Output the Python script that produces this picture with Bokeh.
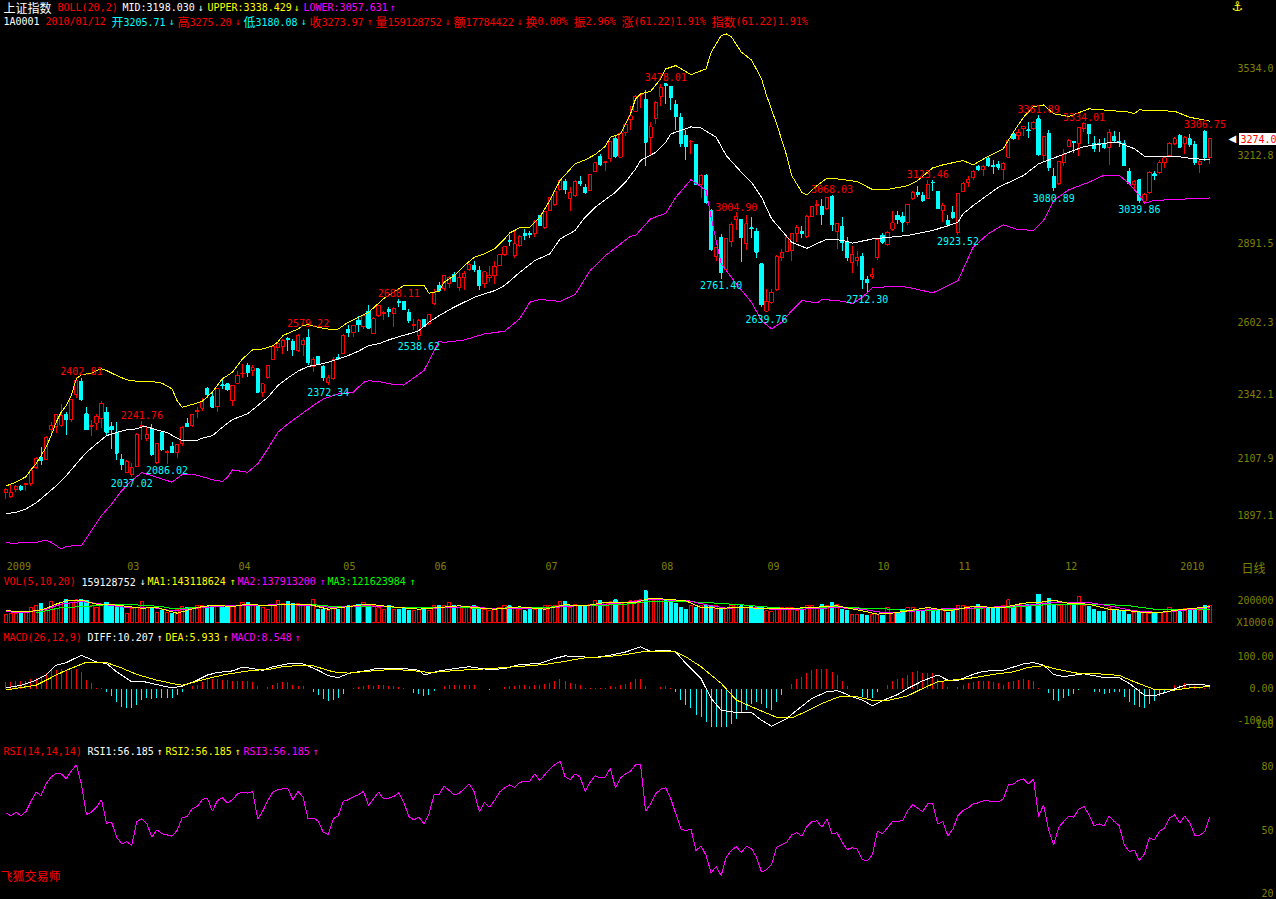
from bokeh.embed import file_html
from bokeh.resources import INLINE
from bokeh.plotting import figure
from bokeh.layouts import column
from bokeh.models import Range1d, LinearAxis, FixedTicker, Label, NumeralTickFormatter
from bokeh.core.properties import value

RED, CYAN, YEL, MAG, GRN, WHT, OLV = "#ff0000", "#00ffff", "#ffff00", "#ff00ff", "#00ff00", "#ffffff", "#808000"
MONO, CJK = "DejaVu Sans Mono", "Noto Sans CJK SC"

opens = [1981,1965,1992,2003,2009,2012,2070,2109,2102,2210,
2221,2227,2265,2248,2338,2386,2268,2222,2233,2249,
2274,2221,2200,2101,2054,2046,2076,2221,2176,2209,
2091,2200,2127,2148,2125,2160,2231,2225,2276,2289,
2360,2330,2294,2374,2377,2316,2380,2414,2444,2426,
2432,2347,2399,2465,2511,2515,2542,2533,2499,2521,
2548,2442,2477,2442,2383,2396,2475,2487,2576,2564,
2609,2587,2643,2560,2627,2633,2649,2633,2678,2680,
2637,2591,2554,
2611,2599,2670,2737,2725,2743,2779,2728,2767,2794,2810,2792,2743,2765,2773,2810,2850,2901,2846,2883,2926,2926,2928,2993,2948,3011,3033,3087,3117,3056,3066,3118,3094,3084,3155,3210,3187,3202,3274,3206,3297,3343,3374,3433,3417,3279,3349,3428,3474,3464,3399,3350,3285,3262,3252,3106,3138,3013,2843,2911,2795,2899,2979,2978,2889,2948,2935,2816,2643,2676,2721,2840,2862,2865,2928,2935,2916,2989,3029,3026,3017,3063,2935,
2953,2893,2822,2828,2844,2760,2770,2840,2920,2887,2943,2993,2989,2968,3056,3078,3066,3056,3115,3082,3011,2975,3005,2932,3081,3115,3133,3172,3160,3200,3176,3179,3160,3206,3291,3285,3310,3306,3310,3346,3212,3294,3135,3111,3188,3245,3263,3255,3310,3326,3255,3256,3258,3243,3282,3262,3258,3155,3106,3123,3045,3076,3145,3149,3185,3212,3255,3285,3255,3273,3252,3179,3300,3206]
closes = [1993,1981,2004,1991,2012,2060,2105,2097,2182,2225,
2264,2261,2247,2320,2389,2320,2210,2225,2259,2307,
2200,2209,2124,2083,2094,2070,2194,2224,2191,2118,
2158,2137,2131,2127,2154,2218,2222,2265,2280,2314,
2338,2292,2360,2370,2355,2372,2408,2416,2419,2436,
2347,2377,2444,2515,2524,2536,2538,2502,2556,2536,
2456,2465,2450,2399,2399,2465,2469,2556,2564,2591,
2594,2627,2581,2615,2664,2639,2643,2652,2676,2650,
2609,2594,2609,
2587,2631,2712,2718,2775,2765,2753,2765,2782,2814,2794,2737,2787,2773,2807,2850,2879,2899,2889,2917,2920,2923,2972,2956,3007,3057,3082,3121,3088,3076,3118,3111,3076,3143,3185,3179,3189,3265,3209,3294,3326,3358,3429,3435,3261,3317,3407,3460,3468,3425,3355,3255,3245,3265,3106,3138,3041,2867,2875,2785,2909,2960,2990,2913,2962,2945,2859,2667,2679,2712,2843,2859,2911,2926,2948,2926,2990,3026,3033,2996,3060,2960,2962,
2895,2840,2850,2840,2760,2749,2779,2905,2895,2932,2966,2978,2968,3035,3078,3068,3048,3105,3112,3018,3029,2960,2987,3072,3111,3123,3154,3160,3172,3176,3172,3170,3184,3267,3273,3298,3318,3304,3334,3216,3283,3167,3094,3191,3216,3267,3261,3313,3328,3291,3237,3254,3243,3298,3267,3260,3176,3109,3118,3048,3070,3151,3138,3185,3204,3258,3273,3243,3277,3252,3188,3191,3204,3274]
highs = [1997,2008,2009,2009,2014,2066,2109,2148,2185,2237,
2268,2304,2274,2322,2403,2399,2294,2246,2268,2313,
2294,2237,2237,2121,2099,2087,2197,2242,2219,2231,
2158,2200,2137,2165,2158,2224,2253,2268,2292,2326,
2367,2347,2363,2392,2380,2375,2424,2450,2454,2447,
2432,2377,2444,2517,2530,2542,2548,2542,2558,2545,
2579,2475,2481,2447,2411,2475,2487,2558,2591,2594,
2627,2633,2664,2621,2667,2645,2658,2658,2688,2682,
2652,2615,2615,
2615,2633,2725,2749,2777,2773,2788,2785,2789,2818,2828,2810,2789,2810,2828,2853,2883,2920,2938,2920,2944,2935,2977,2993,3011,3060,3084,3123,3127,3096,3121,3139,3109,3145,3185,3218,3191,3267,3282,3297,3330,3395,3432,3438,3450,3334,3410,3474,3478,3468,3417,3368,3304,3269,3255,3145,3143,3017,2877,2926,2911,2968,3005,2978,2993,2987,2948,2818,2725,2725,2850,2871,2913,2928,2960,2956,2996,3029,3048,3054,3060,3068,2965,
2987,2914,2883,2865,2855,2773,2801,2907,2928,2938,3009,3011,3007,3035,3082,3102,3078,3123,3121,3084,3038,2993,3026,3074,3115,3137,3160,3179,3176,3209,3196,3194,3188,3269,3298,3310,3322,3334,3338,3361,3285,3304,3167,3194,3237,3273,3267,3316,3334,3326,3282,3273,3277,3310,3301,3298,3269,3167,3123,3127,3074,3155,3155,3196,3209,3263,3279,3291,3285,3291,3265,3196,3307,3275]
lows = [1955,1960,1981,1987,1987,2005,2066,2082,2099,2194,
2197,2219,2192,2237,2326,2316,2207,2188,2207,2216,
2192,2140,2099,2064,2054,2037,2076,2174,2170,2115,
2086,2131,2086,2125,2107,2152,2221,2219,2253,2280,
2326,2292,2274,2359,2350,2298,2377,2399,2404,2408,
2343,2331,2395,2463,2497,2485,2497,2481,2495,2481,
2448,2422,2447,2389,2372,2392,2463,2485,2550,2548,
2566,2578,2581,2558,2623,2611,2623,2587,2660,2648,
2599,2575,2538,
2584,2594,2667,2712,2716,2728,2749,2718,2721,2789,2785,2721,2728,2749,2743,2809,2846,2883,2838,2879,2904,2911,2916,2953,2945,3009,3029,3084,3072,3009,3062,3099,3072,3084,3152,3173,3157,3190,3204,3204,3285,3304,3372,3386,3173,3212,3328,3395,3401,3379,3306,3243,3196,3218,3106,3057,3035,2865,2826,2761,2794,2879,2940,2822,2867,2909,2838,2660,2640,2670,2716,2826,2859,2828,2895,2911,2911,2987,2996,2960,3013,2938,2871,
2865,2825,2782,2810,2725,2712,2761,2832,2889,2883,2938,2962,2932,2960,3050,3060,3042,3054,3082,3017,2970,2950,2981,2923,3078,3096,3123,3154,3139,3172,3145,3160,3124,3204,3269,3269,3282,3277,3304,3212,3194,3157,3081,3106,3174,3243,3221,3212,3298,3255,3224,3224,3237,3176,3261,3243,3176,3106,3090,3040,3038,3072,3124,3145,3167,3206,3249,3243,3218,3243,3176,3148,3194,3180]

upper_i = [0,2,4,5,6,7,8,9,10,11,12,13,14,15,17,18,19,20,22,24,26,29,31,33,34,35,37,39,41,43,45,47,49,51,53,54,55,58,59,60,62,64,66,68,70,72,74,75,79,83,84,86,87,89,91,93,95,97,99,100,102,104,106,108,110,113,115,117,119,120,122,124,125,126,128,130,131,133,136,139,140,142,143,144,146,148,150,151,153,155,156,158,159,161,163,165,169,172,175,179,181,184,186,190,192,195,198,200,202,204,206,208,211,215,219,223,224,225,232,235,239]
upper_v = [2004,2018,2038,2063,2085,2115,2146,2188,2237,2274,2298,2335,2396,2411,2416,2426,2432,2426,2408,2392,2387,2386,2380,2359,2316,2292,2302,2314,2347,2396,2420,2469,2502,2505,2517,2530,2554,2578,2591,2594,2584,2578,2578,2603,2621,2639,2672,2689,2737,2737,2709,2716,2749,2773,2810,2840,2853,2871,2907,2929,2948,2950,2987,3048,3121,3182,3196,3216,3246,3279,3291,3364,3419,3438,3447,3493,3529,3541,3508,3529,3590,3651,3657,3647,3590,3562,3493,3432,3328,3212,3139,3078,3068,3102,3130,3127,3117,3088,3088,3102,3121,3167,3178,3194,3178,3209,3237,3298,3352,3391,3397,3365,3355,3383,3377,3371,3365,3379,3374,3352,3338]
mid_i = [0,2,4,6,8,10,12,14,16,18,20,22,24,26,27,28,30,32,34,35,38,39,41,43,45,48,50,52,54,56,58,60,62,64,66,68,70,72,74,76,78,80,82,84,86,89,93,97,99,102,105,108,110,113,115,117,121,123,125,126,129,131,132,134,136,138,141,143,146,148,150,152,154,156,159,163,165,167,168,172,179,184,189,190,192,197,202,205,211,214,219,221,224,226,232,236,239]
mid_v = [1902,1908,1920,1942,1973,2005,2042,2085,2127,2158,2188,2200,2209,2213,2220,2220,2209,2200,2179,2171,2171,2179,2188,2219,2247,2268,2298,2328,2371,2399,2424,2441,2448,2456,2469,2481,2497,2517,2524,2538,2550,2560,2572,2603,2627,2658,2694,2718,2737,2785,2828,2853,2907,2938,2987,3023,3078,3115,3163,3194,3224,3261,3291,3304,3317,3313,3279,3212,3151,3115,3060,2981,2938,2895,2873,2907,2905,2898,2892,2907,2920,2938,2968,2999,3029,3096,3139,3182,3224,3245,3259,3259,3237,3210,3210,3200,3198]
lower_i = [0,2,4,6,8,9,11,12,15,17,19,21,23,25,27,29,31,33,35,37,39,41,43,44,45,48,50,52,54,56,58,61,63,66,69,71,72,74,77,79,83,86,87,91,95,99,102,104,106,110,113,116,119,122,124,125,128,131,133,136,139,140,142,145,148,150,152,154,156,158,161,162,165,167,168,170,172,176,179,184,189,192,195,198,201,204,206,208,211,215,218,221,223,225,226,228,235,239]
lower_v = [1796,1795,1798,1797,1807,1798,1774,1784,1786,1841,1896,1938,1987,2024,2053,2042,2030,2018,2046,2048,2038,2027,2021,2036,2063,2054,2085,2140,2200,2231,2258,2298,2322,2341,2347,2383,2389,2386,2375,2373,2426,2533,2529,2538,2560,2570,2615,2676,2686,2679,2704,2792,2846,2889,2917,2920,2981,3001,3060,3124,3084,2987,2816,2743,2676,2609,2578,2603,2645,2682,2673,2686,2682,2676,2670,2694,2728,2734,2731,2710,2755,2877,2926,2959,2941,2939,2975,3048,3087,3115,3140,3140,3109,3066,3038,3048,3054,3057]

volume_mil = [76,85,85,85,91,133,152,170,121,194,127,182,212,182,206,212,200,152,136,152,182,167,152,136,85,127,136,188,136,136,91,106,91,85,121,145,136,136,152,158,145,136,152,145,145,152,152,182,182,152,152,136,115,152,197,176,188,176,176,152,167,212,121,121,106,127,121,136,152,158,167,182,167,152,136,121,158,121,121,136,106,106,121,
121,106,152,158,158,182,152,136,145,136,152,136,121,106,121,136,158,152,136,121,106,121,121,121,152,158,158,188,188,136,167,152,152,167,197,197,182,188,206,182,182,197,197,206,288,212,206,218,212,206,173,136,115,152,136,152,152,152,152,136,127,152,167,152,136,145,136,136,106,97,136,136,136,136,106,106,152,152,136,167,152,182,167,
115,106,76,76,76,67,76,76,67,136,91,85,121,136,136,106,106,136,127,106,106,91,121,152,158,145,145,167,127,127,136,136,152,206,158,167,173,167,158,258,188,221,167,158,167,167,152,236,152,142,121,97,100,136,106,106,106,76,91,91,91,85,85,91,97,136,106,97,127,127,106,106,152,159]
ma1_i = [0,4,6,8,10,12,15,18,20,23,27,30,34,38,41,45,48,52,56,60,64,68,72,76,82,86,90,93,97,102,107,111,115,119,125,128,131,135,138,142,146,151,155,160,165,170,173,176,179,183,187,192,198,202,205,208,211,215,219,223,226,229,234,239]
ma1_v = [106,100,106,127,167,197,203,167,167,152,130,136,85,136,158,145,167,152,167,167,121,145,167,145,121,136,152,136,121,142,121,161,152,182,182,221,212,197,136,130,136,127,127,136,152,106,76,85,106,136,106,145,136,176,182,203,173,167,121,106,91,91,121,143]
ma2_i = [0,4,8,11,15,19,24,29,33,39,44,49,53,57,61,65,71,76,82,87,93,96,102,107,111,117,122,127,135,139,143,148,152,158,165,170,174,179,184,190,198,203,208,215,219,224,229,234,239]
ma2_v = [97,91,121,167,191,167,136,136,106,136,152,152,161,161,152,136,152,145,121,136,145,127,127,127,145,161,176,206,203,161,130,136,121,121,136,121,91,97,121,127,145,158,182,182,152,106,91,112,138]
ma3_i = [6,8,11,16,21,27,31,33,39,44,49,55,60,65,72,82,89,96,102,107,112,122,127,135,141,146,150,155,165,170,176,179,186,192,199,205,212,217,223,229,239]
ma3_v = [91,106,136,145,167,158,145,127,136,152,152,161,167,145,145,136,136,127,136,136,152,161,188,191,176,161,145,127,142,130,121,106,115,130,136,158,167,167,152,115,122]

macd_bars = [21,21,23,23,23,29,33,40,47,57,57,60,57,57,60,52,26,16,2,1,
-12,-23,-42,-57,-62,-60,-50,-36,-31,-33,-31,-29,-29,-29,-21,-12,-2,
8,10,21,29,31,29,28,26,25,25,25,23,20,8,0,5,10,16,20,21,10,8,8,0,
-12,-19,-33,-40,-36,-29,-16,-3,
2,5,8,10,8,12,10,8,7,5,3,0,-14,-18,
-24,-21,-8,0,7,12,10,10,10,12,10,0,0,-4,-1,0,5,7,7,10,10,9,10,11,14,16,23,29,25,16,14,10,1,2,2,3,2,7,4,11,14,20,29,29,8,-2,0,5,7,2,-12,-36,-52,-62,-83,-88,-104,-130,-135,-149,-133,-111,-94,-78,-68,-47,-42,-49,-62,-68,-42,-21,-2,14,29,35,47,57,62,62,62,52,42,
23,7,0,-2,-26,-31,-29,-12,0,10,23,31,33,42,52,54,47,50,47,31,23,5,0,5,10,16,21,23,23,23,19,16,12,19,23,26,29,26,23,3,0,-14,-36,-40,-29,-23,-16,-4,-1,-2,-10,-12,-16,-14,-11,-12,-26,-42,-50,-57,-60,-49,-38,-23,-14,-2,10,12,18,12,7,5,3,8.5]
diff_i = [0,3,6,8,10,12,15,18,20,22,25,27,30,33,35,38,40,42,45,47,51,53,56,59,62,64,66,68,72,74,78,82,83,86,89,92,96,99,102,106,109,111,114,117,120,123,126,128,131,133,135,138,140,142,145,148,150,152,155,157,160,163,165,166,168,170,172,174,177,179,182,185,187,189,192,194,198,202,204,206,208,210,214,218,221,223,226,228,231,233,235,239]
diff_v = [2,10,26,42,73,81,104,83,78,52,21,23,12,2,7,26,42,50,55,67,57,68,77,77,57,40,34,47,57,64,64,57,42,55,62,68,59,62,75,78,94,102,99,97,104,114,130,116,120,114,78,31,-31,-68,-75,-75,-99,-118,-94,-68,-31,-10,-7,-12,-26,-36,-54,-38,-19,0,24,42,26,26,44,54,57,77,81,73,44,37,46,34,34,16,-21,-23,-8,5,14,10]
dea_i = [0,3,6,8,10,12,16,20,23,26,30,33,35,40,44,49,52,55,59,61,65,68,72,77,82,84,86,90,96,101,107,111,115,119,123,126,130,133,135,138,142,145,148,153,156,158,162,165,166,169,172,175,179,182,185,187,191,196,200,203,206,209,213,216,221,224,228,232,235,239]
dea_v = [-5,3,10,26,42,57,82,81,64,44,26,16,10,31,45,57,59,68,73,71,52,48,54,60,54,50,52,57,62,68,75,85,96,99,106,114,116,114,99,68,16,-36,-57,-90,-92,-78,-47,-28,-25,-26,-37,-38,-23,0,21,25,31,44,52,66,71,59,47,47,41,21,-3,-5,2,6]

rsi = [58.1,56.7,58.4,56.7,58.7,63.5,67.9,66.3,71.8,75.0,76.8,76.5,74.2,77.8,80.8,71.8,57.3,58.4,60.8,64.3,53.2,53.7,46.6,43.5,44.4,42.8,54.0,55.3,52.9,46.6,50.1,48.2,47.7,47.1,49.8,55.7,56.4,60.0,61.1,64.3,65.2,58.9,63.9,65.2,62.8,64.3,67.1,67.9,67.4,68.3,55.1,58.9,63.9,67.9,69.1,69.4,69.4,64.4,68.3,65.5,55.3,55.7,54.2,49.0,47.9,55.3,56.8,63.6,64.3,65.8,66.6,68.3,61.6,64.7,67.9,64.7,65.0,65.8,67.6,63.1,56.4,54.8,56.1,52.9,57.6,66.6,66.8,70.7,68.7,66.6,67.4,69.4,71.8,67.9,58.6,63.1,60.8,63.9,67.9,69.9,71.3,70.2,72.6,72.8,73.1,76.5,73.4,76.2,78.9,80.9,82.5,75.3,73.7,76.5,75.0,68.2,72.6,75.7,74.6,75.0,79.2,69.9,74.6,76.5,77.8,80.8,80.8,
58.9,62.4,67.1,69.3,69.9,64.7,57.6,50.5,49.6,50.5,40.3,42.5,38.0,29.8,32.7,28.5,37.2,40.3,42.2,39.4,42.3,41.2,37.2,30.2,31.2,33.7,41.9,43.0,44.2,47.7,48.7,47.2,51.6,54.0,54.3,51.3,55.1,48.2,48.7,44.2,40.8,41.6,41.0,36.1,35.3,38.3,49.4,48.2,51.0,54.0,54.2,54.3,59.2,61.9,60.3,58.7,62.4,62.4,52.9,53.9,47.2,50.5,56.8,59.2,60.3,62.4,62.8,63.8,63.8,63.3,63.3,64.7,71.3,71.8,73.4,74.2,71.8,74.2,56.4,61.9,49.8,43.0,51.3,54.0,56.5,56.1,60.0,61.1,57.3,52.0,52.9,52.0,56.7,54.0,52.1,43.1,39.8,40.6,35.6,38.7,46.3,45.3,49.4,51.0,55.7,57.2,53.4,56.5,53.5,47.5,47.5,49.3,56.2]

peak_text = ["2402.81","2241.76","2579.22","2688.11","3478.01","3004.90","3068.03","3123.46","3361.89","3334.01","3306.75"]
peak_bar = [15,27,60,78,131,145,164,183,205,214,238]
trough_text = ["2037.02","2086.02","2372.34","2538.62","2761.40","2639.76","2712.30","2923.52","3080.89","3039.86"]
trough_bar = [25,32,64,82,142,151,171,189,208,225]

month_pos = [2.6,25.3,47.4,68.2,86.3,108.3,131.3,152.4,174.2,190.3,211.5,235.5]
month_lab = ["2009","03","04","05","06","07","08","09","10","11","12","2010"]
price_ticks = [3534.0,3212.8,2891.5,2602.3,2342.1,2107.9,1897.1]
vol_ticks = {200000:"200000", 0:"\u00a0\u00a0\u00a0\u00a0\u00a00"}
macd_ticks = {100:"100.00", 0:"\u00a0\u00a00.00", -100:"-100.0"}
rsi_ticks = {100:"\u00a0\u00a0\u00a0100", 80:"\u00a0\u00a0\u00a0\u00a080", 50:"\u00a0\u00a0\u00a0\u00a050", 20:"\u00a0\u00a0\u00a0\u00a020"}

N = len(opens)
BAR0, STEP, FRAME_W = 5.3, 5.038, 1230
x_range = Range1d((0 - BAR0) / STEP, (FRAME_W - BAR0) / STEP)
idx = list(range(N))
up = [i for i in idx if closes[i] >= opens[i]]
dn = [i for i in idx if closes[i] < opens[i]]


def panel(height, ystart, yend, ticks, labels=None, fmt=None, transparent=False, margin=None, bottom=0):
    p = figure(width=1276, height=height, x_range=x_range, y_range=Range1d(ystart, yend),
               output_backend="svg", toolbar_location=None, tools="",
               background_fill_color="#000000", border_fill_color="#000000",
               min_border_left=0, min_border_top=0, min_border_bottom=bottom, min_border_right=46,
               outline_line_color=None, x_axis_location=None, y_axis_location=None)
    if transparent:
        p.background_fill_alpha = 0
        p.border_fill_alpha = 0
    if margin:
        p.margin = margin
    p.grid.visible = False
    ax = LinearAxis(ticker=FixedTicker(ticks=list(ticks)), major_label_text_color=OLV,
                    major_label_text_font=MONO, major_label_text_font_size="10px",
                    axis_line_color=None, major_tick_line_color=None, minor_tick_line_color=None,
                    major_label_standoff=7, major_tick_out=0, major_tick_in=0)
    if labels:
        ax.major_label_overrides = labels
    if fmt:
        ax.formatter = NumeralTickFormatter(format=fmt)
    p.add_layout(ax, "right")
    return p


# ---- main price panel: page y -> price = 3779 - 3.656*y
H1 = 575
p1 = panel(H1, 3779 - 3.656 * 558, 3779, price_ticks, fmt="0.0", bottom=17)
xa = LinearAxis(ticker=FixedTicker(ticks=month_pos), major_label_overrides=dict(zip(month_pos, month_lab)),
                major_label_text_color=OLV, major_label_text_font=MONO, major_label_text_font_size="10px",
                axis_line_color=None, major_tick_line_color=None, minor_tick_line_color=None,
                major_label_standoff=3, major_tick_out=0, major_tick_in=0)
p1.add_layout(xa, "below")
for sel, col in ((up, RED), (dn, CYAN)):
    p1.segment(sel, [highs[i] for i in sel], sel, [lows[i] for i in sel], line_color=col, line_width=1)
p1.vbar(x=up, bottom=[opens[i] for i in up], top=[closes[i] for i in up], width=0.64, fill_color="#000000", line_color=RED, line_width=1)
p1.vbar(x=dn, bottom=[closes[i] for i in dn], top=[opens[i] for i in dn], width=0.64, fill_color=CYAN, line_color=CYAN, line_width=1)
p1.line(mid_i, mid_v, line_color=WHT, line_width=1)
p1.line(upper_i, upper_v, line_color=YEL, line_width=1)
p1.line(lower_i, lower_v, line_color=MAG, line_width=1)
p1.text(x=peak_bar, y=[float(t) for t in peak_text], text=peak_text, text_color=RED, text_font=value(MONO),
        text_font_size="10px", text_align="center", text_baseline="middle", y_offset=-5.5)
p1.text(x=trough_bar, y=[float(t) for t in trough_text], text=trough_text, text_color=CYAN, text_font=value(MONO),
        text_font_size="10px", text_align="center", text_baseline="middle", y_offset=6.5)

# ---- volume panel: 0 at page y 622, 22 px per 200000
H2 = 55
K = 200000 / 22
p2 = panel(H2, -(630 - 622) * K, (622 - 575) * K, vol_ticks.keys(), vol_ticks)
p2.vbar(x=up, bottom=0, top=[volume_mil[i] * 1000 for i in up], width=0.64, fill_color="#000000", line_color=RED, line_width=1)
p2.vbar(x=dn, bottom=0, top=[volume_mil[i] * 1000 for i in dn], width=0.64, fill_color=CYAN, line_color=CYAN, line_width=1)
for a, b, c in ((ma3_i, ma3_v, GRN), (ma2_i, ma2_v, MAG), (ma1_i, ma1_v, YEL)):
    p2.line(a, [v * 1000 for v in b], line_color=c, line_width=1)

# ---- MACD panel: 0 at page y 688, 0.32 px per unit
H3 = 97
p3 = panel(H3, -(727 - 688) / 0.32, (688 - 630) / 0.32, macd_ticks.keys(), macd_ticks)
for sel, col in (([i for i in idx if macd_bars[i] >= 0], RED), ([i for i in idx if macd_bars[i] < 0], CYAN)):
    p3.segment(sel, [0] * len(sel), sel, [macd_bars[i] for i in sel], line_color=col, line_width=1)
p3.line(diff_i, diff_v, line_color=WHT, line_width=1)
p3.line(dea_i, dea_v, line_color=YEL, line_width=1)

# ---- RSI panel: overlaps the MACD panel by 10 px; 80 at page y 766, 2.117 px per unit
H4 = 182
p4 = panel(H4, 80 - (899 - 766) / 2.117, 80 + (766 - 717) / 2.117, rsi_ticks.keys(), rsi_ticks,
           transparent=True, margin=(-10, 0, 0, 0))
p4.line(idx, rsi, line_color=MAG, line_width=1)

# ---- transparent text sheet over the whole page, holding the header rows and the right-hand notes
PAGE_H = 899
p5 = figure(width=1276, height=PAGE_H, x_range=Range1d(0, 1276), y_range=Range1d(3779 - 3.656 * PAGE_H, 3779),
            output_backend="svg", toolbar_location=None, tools="", background_fill_alpha=0, border_fill_alpha=0,
            min_border=0, min_border_left=0, min_border_right=0, min_border_top=0, min_border_bottom=0,
            outline_line_color=None, x_axis_location=None, y_axis_location=None, margin=(-PAGE_H, 0, 0, 0),
            frame_align=False)
p5.grid.visible = False


def seg(x, y, text, color, font=MONO, size="10px"):
    p5.add_layout(Label(x=x, y=PAGE_H - y, x_units="screen", y_units="screen", text=text, text_color=color,
                        text_font=font, text_font_size=size, text_align="left", text_baseline="middle"))


def row(y, items):
    for x, text, color in items:
        cjk = any(ord(c) > 0x2fff for c in text)
        seg(x, y, text, color, CJK if cjk else MONO, "12px" if cjk else "10px")


row(7, [(3, "上证指数", WHT), (57, "BOLL(20,2)", RED), (122, "MID:3198.030", WHT), (197, "↓", WHT),
        (207, "UPPER:3338.429", YEL), (293, "↓", YEL), (303, "LOWER:3057.631", MAG), (389, "↑", MAG)])
row(21, [(3, "1A0001", WHT), (45, "2010/01/12", RED),
         (111, "开", CYAN), (123, "3205.71", CYAN), (168, "↓", CYAN),
         (177, "高", RED), (189, "3275.20", RED), (234, "↓", RED),
         (243, "低", CYAN), (255, "3180.08", CYAN), (300, "↓", CYAN),
         (309, "收", RED), (321, "3273.97", RED), (366, "↑", RED),
         (375, "量", RED), (387, "159128752", RED), (444, "↓", RED),
         (453, "额", RED), (465, "17784422", RED), (516, "↓", RED),
         (525, "换", RED), (537, "0.00%", RED), (573, "振", RED), (585, "2.96%", RED),
         (621, "涨", RED), (633, "(61.22)1.91%", RED), (711, "指数", RED), (735, "(61.22)1.91%", RED)])
row(567, [(1241, "日线", OLV)])
seg(1231, 6, "⚓", YEL, "DejaVu Sans", "13px")
p5.add_layout(Label(x=1228, y=3274, x_units="screen", y_units="data", text="◀", text_color=WHT,
                    text_font="DejaVu Sans", text_font_size="10px", text_baseline="middle"))
p5.add_layout(Label(x=1238, y=3274, x_units="screen", y_units="data", text="3274.0", text_color=RED,
                    text_font=MONO, text_font_size="10px", text_baseline="middle",
                    background_fill_color="#ffffff", padding=2))
row(581, [(3, "VOL(5,10,20)", RED), (81, "159128752", WHT), (139, "↓", WHT),
          (147, "MA1:143118624", YEL), (229, "↑", YEL), (237, "MA2:137913200", MAG), (319, "↑", MAG),
          (327, "MA3:121623984", GRN), (409, "↑", GRN)])
row(622, [(1236, "X1000", OLV)])
row(637, [(3, "MACD(26,12,9)", RED), (87, "DIFF:10.207", WHT), (156, "↑", WHT), (165, "DEA:5.933", YEL),
          (222, "↑", YEL), (231, "MACD:8.548", MAG), (294, "↑", MAG)])
row(751, [(3, "RSI(14,14,14)", RED), (87, "RSI1:56.185", WHT), (156, "↑", WHT), (165, "RSI2:56.185", YEL),
          (234, "↑", YEL), (243, "RSI3:56.185", MAG), (312, "↑", MAG)])
row(875, [(0, "飞狐交易师", RED)])

page = column(p1, p2, p3, p4, p5, spacing=0,
              styles={"position": "fixed", "left": "0", "top": "0", "background": "#000000",
                      "shape-rendering": "crispEdges"})
open("out.html", "w").write(file_html(page, INLINE))
